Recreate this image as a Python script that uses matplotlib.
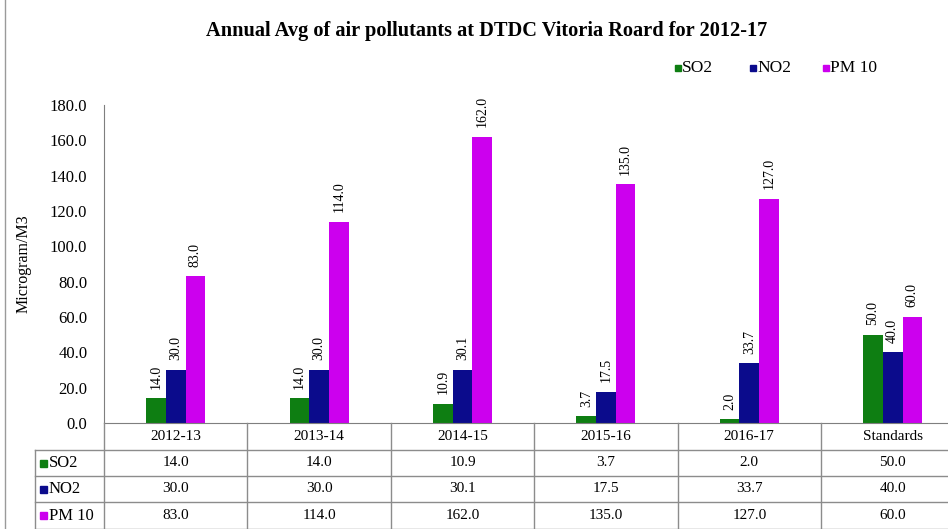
import matplotlib
matplotlib.use("Agg")
import matplotlib.pyplot as plt
from matplotlib.transforms import blended_transform_factory
from matplotlib.patches import Rectangle
from matplotlib.lines import Line2D

categories = ["2012-13", "2013-14", "2014-15", "2015-16", "2016-17", "Standards"]
so2 = [14.0, 14.0, 10.9, 3.7, 2.0, 50.0]
no2 = [30.0, 30.0, 30.1, 17.5, 33.7, 40.0]
pm10 = [83.0, 114.0, 162.0, 135.0, 127.0, 60.0]
series_names = ["SO2", "NO2", "PM 10"]
series_colors = ["#0E7E12", "#0B0B8C", "#CC00EE"]
series = [so2, no2, pm10]

plt.rcParams["font.family"] = ["Liberation Serif", "DejaVu Serif"]

W, H = 948, 529
fig = plt.figure(figsize=(W / 100, H / 100), dpi=100)

# axes placement in pixels
ax_left, ax_right, ax_top, ax_bot = 104, 948, 105, 423
col_px = 143.4
ax = fig.add_axes([ax_left / W, (H - ax_bot) / H, (ax_right - ax_left) / W, (ax_bot - ax_top) / H])
n = len(categories)
ax.set_xlim(-0.5, -0.5 + (ax_right - ax_left) / col_px)
ax.set_ylim(0, 180)

fs = 11
bw = 0.137
for i, (vals, name, c) in enumerate(zip(series, series_names, series_colors)):
    xs = [k + (i - 1) * bw for k in range(n)]
    ax.bar(xs, vals, width=bw, color=c, label=name)
    for x, v in zip(xs, vals):
        ax.annotate(f"{v:.1f}", (x, v), xytext=(0, 7), textcoords="offset points",
                    rotation=90, ha="center", va="bottom", fontsize=10)

ax.set_yticks(range(0, 181, 20))
ax.set_yticklabels([f"{t:.1f}" for t in range(0, 181, 20)], fontsize=12)
ax.tick_params(axis="y", length=0, pad=12)
ax.tick_params(axis="x", length=0, labelbottom=False)
for s in ["top", "right"]:
    ax.spines[s].set_visible(False)
ax.spines["left"].set_color("#7f7f7f")
ax.spines["bottom"].set_color("#7f7f7f")
ax.set_ylabel("Microgram/M3", fontsize=11.5)
ax.yaxis.set_label_coords(-72 / (ax_right - ax_left), 0.5)

# data table under the axis
tr = blended_transform_factory(ax.transData, fig.transFigure)
px_to_x = lambda p: -0.5 + (p - ax_left) / col_px
fy = lambda p: (H - p) / H
row_edges = [423, 450, 476, 502, 529]
lc = "#8c8c8c"
lab_left = px_to_x(35)
x_end = px_to_x(ax_right + 20)
for k in range(n + 1):
    fig.add_artist(Line2D([k - 0.5, k - 0.5], [fy(423), fy(529)], transform=tr, color=lc, lw=1))
fig.add_artist(Line2D([lab_left, lab_left], [fy(450), fy(529)], transform=tr, color=lc, lw=1))
for p in row_edges[1:]:
    fig.add_artist(Line2D([lab_left, x_end], [fy(p), fy(p)], transform=tr, color=lc, lw=1))

for k, cat in enumerate(categories):
    fig.text(k, fy((423 + 450) / 2), cat, transform=tr, ha="center", va="center", fontsize=fs)
for r, (vals, name, c) in enumerate(zip(series, series_names, series_colors)):
    yc = fy((row_edges[r + 1] + row_edges[r + 2]) / 2)
    for k, v in enumerate(vals):
        fig.text(k, yc, f"{v:.1f}", transform=tr, ha="center", va="center", fontsize=fs)
    fig.add_artist(Rectangle((40 / W, yc - 3.5 / H), 7 / W, 7 / H, transform=fig.transFigure, color=c))
    fig.text(49 / W, yc, name, ha="left", va="center", fontsize=12)

# legend entries along the top right
legend_x = [675, 750, 823]
for x0, name, c in zip(legend_x, series_names, series_colors):
    fig.add_artist(Rectangle((x0 / W, fy(71)), 6 / W, 6 / H, transform=fig.transFigure, color=c))
    fig.text((x0 + 7) / W, fy(68), name, ha="left", va="center", fontsize=12.5)

fig.text(487 / W, fy(31), "Annual Avg of air pollutants at DTDC Vitoria Roard for 2012-17",
         ha="center", va="center", fontsize=14.7, fontweight="bold")

# left border rule
fig.add_artist(Line2D([5 / W, 5 / W], [0, 1], transform=fig.transFigure, color="#9a9a9a", lw=1))

fig.savefig("out.png", dpi=100, facecolor="white")
